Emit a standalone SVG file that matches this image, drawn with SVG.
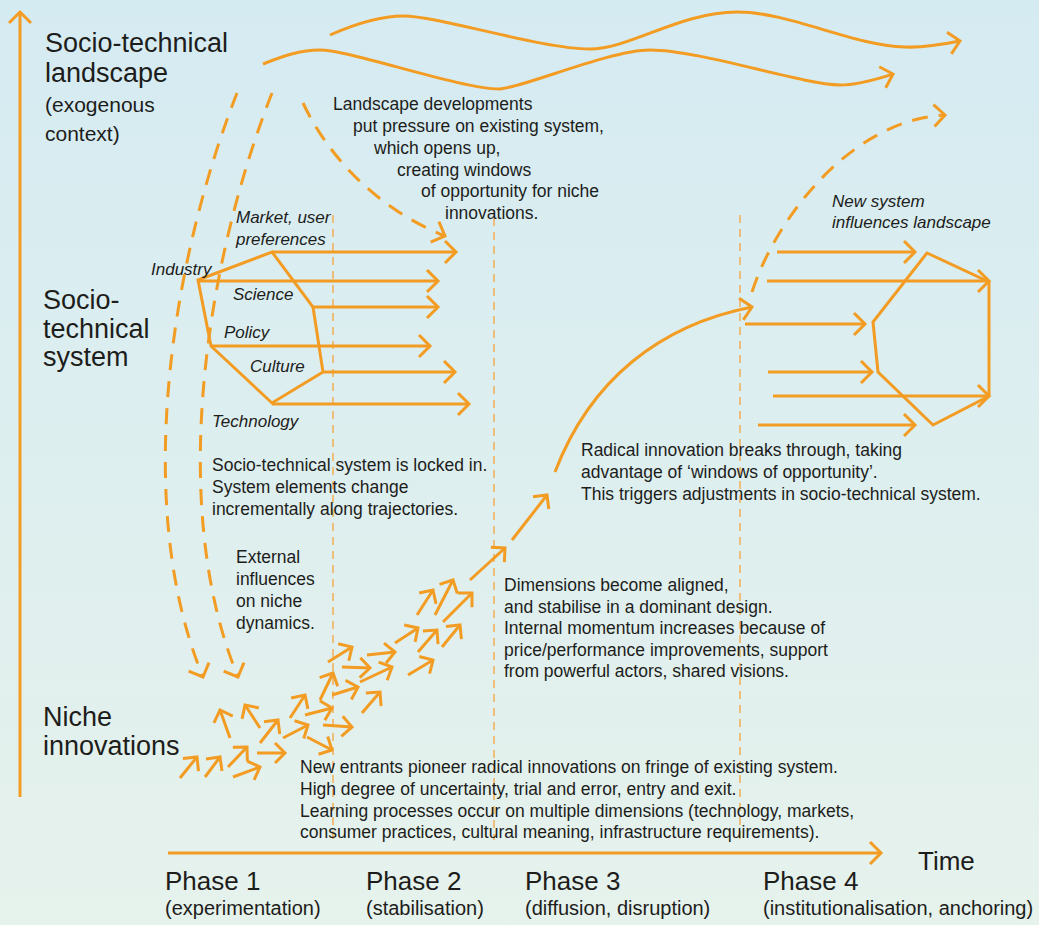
<svg xmlns="http://www.w3.org/2000/svg" width="1039" height="925" viewBox="0 0 1039 925">
<defs>
<linearGradient id="bg" x1="0" y1="0" x2="0" y2="1">
<stop offset="0" stop-color="#d5ebf2"/>
<stop offset="1" stop-color="#e6f2ec"/>
</linearGradient>
<marker id="ah" viewBox="-16 -16 32 32" markerWidth="32" markerHeight="32" refX="0" refY="0" orient="auto" markerUnits="userSpaceOnUse" overflow="visible">
<path d="M-11,-11 L0,0 L-11,11" fill="none" stroke="#f39c23" stroke-width="3"/>
</marker>
<marker id="ahs" viewBox="-16 -16 32 32" markerWidth="32" markerHeight="32" refX="0" refY="0" orient="auto" markerUnits="userSpaceOnUse" overflow="visible">
<path d="M-10,-10 L0,0 L-10,10" fill="none" stroke="#f39c23" stroke-width="3"/>
</marker>
<style>
.o{fill:none;stroke:#f39c23;stroke-width:3}
.a{marker-end:url(#ah)}
.sa{fill:none;stroke:#f39c23;stroke-width:3;marker-end:url(#ahs)}
.d{fill:none;stroke:#f39c23;stroke-width:3;stroke-dasharray:16 11;marker-end:url(#ah)}
.ph{fill:none;stroke:#f2b25e;stroke-width:1.6;stroke-dasharray:8 6}
.t{font-family:"Liberation Sans",Arial,sans-serif;fill:#1d1d1b}
.h{font-size:27px}
.s{font-size:21px}
.b{font-size:17.5px}
.i{font-size:17px;font-style:italic}
.p{font-size:26px}
.q{font-size:20px}
</style>
</defs>
<rect x="0" y="0" width="1039" height="925" fill="url(#bg)"/>

<g id="phase-lines">
<line class="ph" x1="333" y1="215" x2="333" y2="840"/>
<line class="ph" x1="494" y1="218" x2="494" y2="840"/>
<line class="ph" x1="740" y1="215" x2="740" y2="840"/>
</g>

<g id="axes">
<line class="o a" x1="20" y1="797" x2="20" y2="12"/>
<line class="o a" x1="168" y1="853" x2="881" y2="853"/>
<text class="t p" x="918" y="870">Time</text>
</g>

<g id="landscape">
<text class="t h" x="45" y="52">Socio-technical</text>
<text class="t h" x="45" y="82">landscape</text>
<text class="t s" x="45" y="112">(exogenous</text>
<text class="t s" x="45" y="141">context)</text>
<path class="o a" d="M330,35 C355,24 380,16 403,16 C440,16 540,49 590,49 C630,49 680,12 737,12 C790,12 850,45 905,47 C925,48 945,44 960,41"/>
<path class="o a" d="M263,64 C283,56 300,50 320,50 C350,50 460,89 500,89 C525,87 610,50 650,50 C700,50 800,84 840,85 C860,85 880,78 893,74"/>
</g>

<g id="system">
<text class="t h" x="43" y="309">Socio-</text>
<text class="t h" x="43" y="338">technical</text>
<text class="t h" x="43" y="366">system</text>
<polygon class="o" points="198,280 272,252 313,307 323,372 272,403 211,346"/>
<line class="o a" x1="272" y1="252" x2="456" y2="252"/>
<line class="o a" x1="198" y1="281" x2="438" y2="281"/>
<line class="o a" x1="313" y1="307" x2="438" y2="307"/>
<line class="o a" x1="211" y1="346" x2="430" y2="346"/>
<line class="o a" x1="323" y1="372" x2="455" y2="372"/>
<line class="o a" x1="272" y1="404" x2="469" y2="404"/>
<text class="t i" x="236" y="223">Market, user</text>
<text class="t i" x="236" y="245">preferences</text>
<text class="t i" x="151" y="275">Industry</text>
<text class="t i" x="233" y="300">Science</text>
<text class="t i" x="224" y="338">Policy</text>
<text class="t i" x="250" y="372">Culture</text>
<text class="t i" x="212" y="427">Technology</text>
</g>

<g id="new-system">
<polygon class="o" points="927,253 989,282 989,396 933,425 878,372 873,322"/>
<line class="o a" x1="777" y1="252" x2="915" y2="252"/>
<line class="o a" x1="767" y1="281" x2="989" y2="281"/>
<line class="o a" x1="745" y1="324" x2="865" y2="324"/>
<line class="o a" x1="768" y1="372" x2="872" y2="372"/>
<line class="o a" x1="773" y1="396" x2="989" y2="396"/>
<line class="o a" x1="758" y1="425" x2="915" y2="425"/>
<text class="t i" x="832" y="207">New system</text>
<text class="t i" x="832" y="228">influences landscape</text>
</g>

<g id="niche">
<text class="t h" x="43" y="726">Niche</text>
<text class="t h" x="43" y="755">innovations</text>
<line class="sa" x1="180" y1="778" x2="197" y2="757"/>
<line class="sa" x1="205" y1="777" x2="220" y2="757"/>
<line class="sa" x1="228" y1="767" x2="247" y2="747"/>
<line class="sa" x1="233" y1="777" x2="260" y2="767"/>
<line class="sa" x1="257" y1="753" x2="285" y2="753"/>
<line class="sa" x1="230" y1="738" x2="220" y2="710"/>
<line class="sa" x1="260" y1="728" x2="245" y2="705"/>
<line class="sa" x1="260" y1="743" x2="278" y2="720"/>
<line class="sa" x1="283" y1="738" x2="308" y2="725"/>
<line class="sa" x1="307" y1="737" x2="332" y2="750"/>
<line class="sa" x1="290" y1="718" x2="305" y2="695"/>
<line class="sa" x1="305" y1="715" x2="332" y2="708"/>
<line class="sa" x1="320" y1="700" x2="333" y2="673"/>
<line class="sa" x1="323" y1="725" x2="352" y2="727"/>
<line class="sa" x1="332" y1="695" x2="358" y2="687"/>
<line class="sa" x1="328" y1="662" x2="352" y2="647"/>
<line class="sa" x1="342" y1="667" x2="370" y2="668"/>
<line class="sa" x1="362" y1="713" x2="380" y2="692"/>
<line class="sa" x1="360" y1="682" x2="392" y2="667"/>
<line class="sa" x1="367" y1="655" x2="395" y2="652"/>
<line class="sa" x1="395" y1="643" x2="418" y2="628"/>
<line class="sa" x1="408" y1="675" x2="433" y2="660"/>
<line class="sa" x1="418" y1="652" x2="437" y2="630"/>
<line class="sa" x1="442" y1="647" x2="460" y2="625"/>
<line class="sa" x1="417" y1="615" x2="433" y2="590"/>
<line class="sa" x1="435" y1="615" x2="453" y2="580"/>
<line class="sa" x1="443" y1="622" x2="472" y2="593"/>
<line class="sa" x1="470" y1="580" x2="505" y2="548"/>
<line class="sa" x1="512" y1="540" x2="547" y2="495"/>
</g>

<g id="connectors">
<path class="d" d="M237,93 C175,250 130,500 203,677"/>
<path class="d" d="M272,93 C210,250 165,500 238,677"/>
<path class="d" d="M303,103 C330,160 380,210 445,236"/>
<path class="d" d="M752,292 C775,220 850,120 945,115"/>
<path class="o a" d="M555,472 C590,380 660,325 752,307"/>
</g>

<g id="annotations">
<text class="t b"><tspan x="333" y="110">Landscape developments</tspan><tspan x="353" y="132">put pressure on existing system,</tspan><tspan x="374" y="154">which opens up,</tspan><tspan x="397" y="176">creating windows</tspan><tspan x="421" y="197">of opportunity for niche</tspan><tspan x="445" y="219">innovations.</tspan></text>
<text class="t b"><tspan x="212" y="471">Socio-technical system is locked in.</tspan><tspan x="212" y="493">System elements change</tspan><tspan x="212" y="515">incrementally along trajectories.</tspan></text>
<text class="t b"><tspan x="236" y="563">External</tspan><tspan x="236" y="585">influences</tspan><tspan x="236" y="607">on niche</tspan><tspan x="236" y="629">dynamics.</tspan></text>
<text class="t b"><tspan x="581" y="456">Radical innovation breaks through, taking</tspan><tspan x="581" y="478">advantage of ‘windows of opportunity’.</tspan><tspan x="581" y="500">This triggers adjustments in socio-technical system.</tspan></text>
<text class="t b"><tspan x="504" y="591">Dimensions become aligned,</tspan><tspan x="504" y="613">and stabilise in a dominant design.</tspan><tspan x="504" y="634">Internal momentum increases because of</tspan><tspan x="504" y="656">price/performance improvements, support</tspan><tspan x="504" y="677">from powerful actors, shared visions.</tspan></text>
<text class="t b"><tspan x="300" y="773">New entrants pioneer radical innovations on fringe of existing system.</tspan><tspan x="300" y="795">High degree of uncertainty, trial and error, entry and exit.</tspan><tspan x="300" y="817">Learning processes occur on multiple dimensions (technology, markets,</tspan><tspan x="300" y="838">consumer practices, cultural meaning, infrastructure requirements).</tspan></text>
</g>

<g id="phases">
<text class="t p" x="165" y="890">Phase 1</text>
<text class="t q" x="165" y="915">(experimentation)</text>
<text class="t p" x="366" y="890">Phase 2</text>
<text class="t q" x="366" y="915">(stabilisation)</text>
<text class="t p" x="525" y="890">Phase 3</text>
<text class="t q" x="525" y="915">(diffusion, disruption)</text>
<text class="t p" x="763" y="890">Phase 4</text>
<text class="t q" x="763" y="915">(institutionalisation, anchoring)</text>
</g>
</svg>
